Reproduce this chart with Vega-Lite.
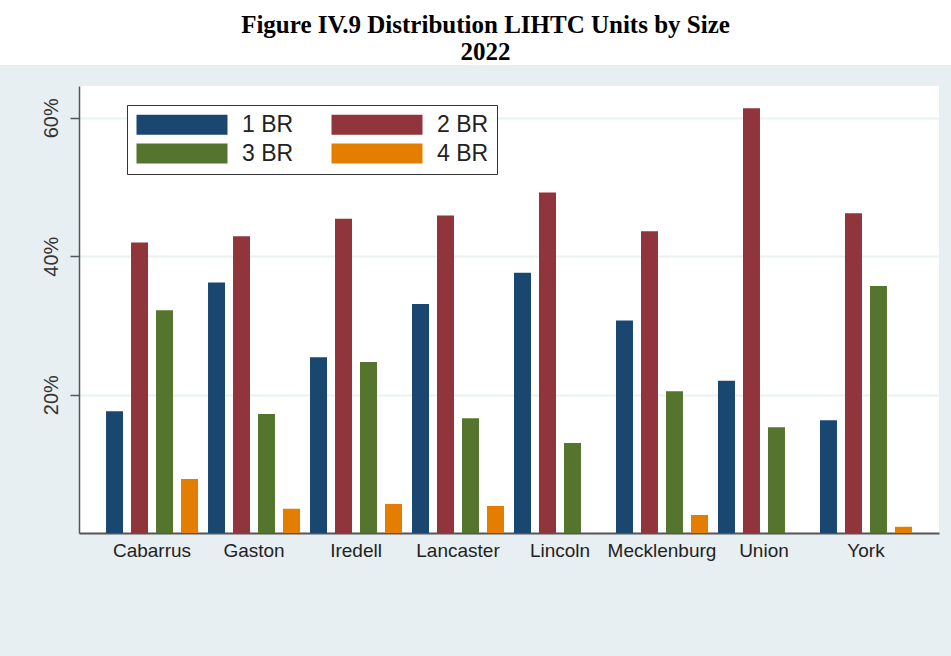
{
  "$schema": "https://vega.github.io/schema/vega-lite/v6.json",
  "background": "#e8eff2",
  "padding": {"left": 0, "top": 0, "right": 0, "bottom": 100},
  "spacing": 20,
  "config": {"view": {"stroke": null}, "font": "Liberation Sans"},
  "vconcat": [
    {
      "width": 951,
      "height": 65,
      "view": {"fill": "white", "stroke": null},
      "data": {"values": [
        {"line": "Figure IV.9 Distribution LIHTC Units by Size", "row": 1},
        {"line": "2022", "row": 2}
      ]},
      "mark": {"type": "text", "font": "Liberation Serif", "fontWeight": "bold", "fontSize": 25, "baseline": "alphabetic", "align": "center", "dx": 10, "color": "#000000"},
      "encoding": {
        "y": {"field": "row", "type": "quantitative", "scale": {"domain": [-0.222, 2.185], "reverse": true, "nice": false, "zero": false}, "axis": null},
        "text": {"field": "line", "type": "nominal"}
      }
    },
    {
      "spacing": 0,
      "hconcat": [
        {
          "width": 40,
          "height": 447,
          "data": {"values": []},
          "mark": {"type": "point"}
        },
        {
          "width": 860,
          "height": 447,
          "view": {"fill": "white", "stroke": null},
          "data": {"values": [
            {"county": "Cabarrus", "size": "1 BR", "share": 17.6},
            {"county": "Cabarrus", "size": "2 BR", "share": 42.0},
            {"county": "Cabarrus", "size": "3 BR", "share": 32.2},
            {"county": "Cabarrus", "size": "4 BR", "share": 7.8},
            {"county": "Gaston", "size": "1 BR", "share": 36.2},
            {"county": "Gaston", "size": "2 BR", "share": 42.9},
            {"county": "Gaston", "size": "3 BR", "share": 17.2},
            {"county": "Gaston", "size": "4 BR", "share": 3.5},
            {"county": "Iredell", "size": "1 BR", "share": 25.4},
            {"county": "Iredell", "size": "2 BR", "share": 45.4},
            {"county": "Iredell", "size": "3 BR", "share": 24.7},
            {"county": "Iredell", "size": "4 BR", "share": 4.2},
            {"county": "Lancaster", "size": "1 BR", "share": 33.1},
            {"county": "Lancaster", "size": "2 BR", "share": 45.9},
            {"county": "Lancaster", "size": "3 BR", "share": 16.6},
            {"county": "Lancaster", "size": "4 BR", "share": 3.9},
            {"county": "Lincoln", "size": "1 BR", "share": 37.6},
            {"county": "Lincoln", "size": "2 BR", "share": 49.2},
            {"county": "Lincoln", "size": "3 BR", "share": 13.0},
            {"county": "Mecklenburg", "size": "1 BR", "share": 30.7},
            {"county": "Mecklenburg", "size": "2 BR", "share": 43.6},
            {"county": "Mecklenburg", "size": "3 BR", "share": 20.5},
            {"county": "Mecklenburg", "size": "4 BR", "share": 2.6},
            {"county": "Union", "size": "1 BR", "share": 22.0},
            {"county": "Union", "size": "2 BR", "share": 61.4},
            {"county": "Union", "size": "3 BR", "share": 15.3},
            {"county": "York", "size": "1 BR", "share": 16.3},
            {"county": "York", "size": "2 BR", "share": 46.2},
            {"county": "York", "size": "3 BR", "share": 35.7},
            {"county": "York", "size": "4 BR", "share": 0.9}
          ]},
          "mark": {"type": "bar"},
          "encoding": {
            "x": {
              "field": "county", "type": "nominal", "sort": null,
              "scale": {"paddingInner": 0.098, "paddingOuter": 0.265},
              "axis": {"title": null, "labelAngle": 0, "ticks": false, "labelFontSize": 19, "labelColor": "#222222", "labelPadding": 8, "domainColor": "#555555", "domainWidth": 2}
            },
            "xOffset": {
              "field": "size", "type": "nominal", "sort": ["1 BR", "2 BR", "3 BR", "4 BR"],
              "scale": {"paddingInner": 0.32, "paddingOuter": 0}
            },
            "y": {
              "field": "share", "type": "quantitative",
              "scale": {"domain": [0, 64.6], "nice": false},
              "axis": {"title": null, "values": [20, 40, 60], "labelExpr": "datum.value + '%'", "labelAngle": 270, "labelFontSize": 20, "labelColor": "#333333", "labelPadding": 9, "tickSize": 9, "tickColor": "#555555", "tickWidth": 1.5, "domainColor": "#555555", "domainWidth": 1.5, "grid": true, "gridColor": "#eaf1f3", "gridWidth": 2}
            },
            "color": {
              "field": "size", "type": "nominal",
              "scale": {"domain": ["1 BR", "2 BR", "3 BR", "4 BR"], "range": ["#1a476f", "#90353b", "#55752f", "#e37e00"]},
              "legend": {"title": null, "orient": "none", "legendX": 127, "legendY": 105, "direction": "horizontal", "columns": 2, "symbolType": "M-1,-1L8.1,-1L8.1,1L-1,1Z", "symbolSize": 400, "symbolStrokeWidth": 0, "labelFontSize": 23, "labelOffset": 84, "columnPadding": 36, "rowPadding": 5, "padding": 8, "strokeColor": "#333333", "fillColor": "#ffffff", "labelColor": "#222222", "labelFont": "Liberation Sans"}
            }
          }
        }
      ]
    }
  ]
}
